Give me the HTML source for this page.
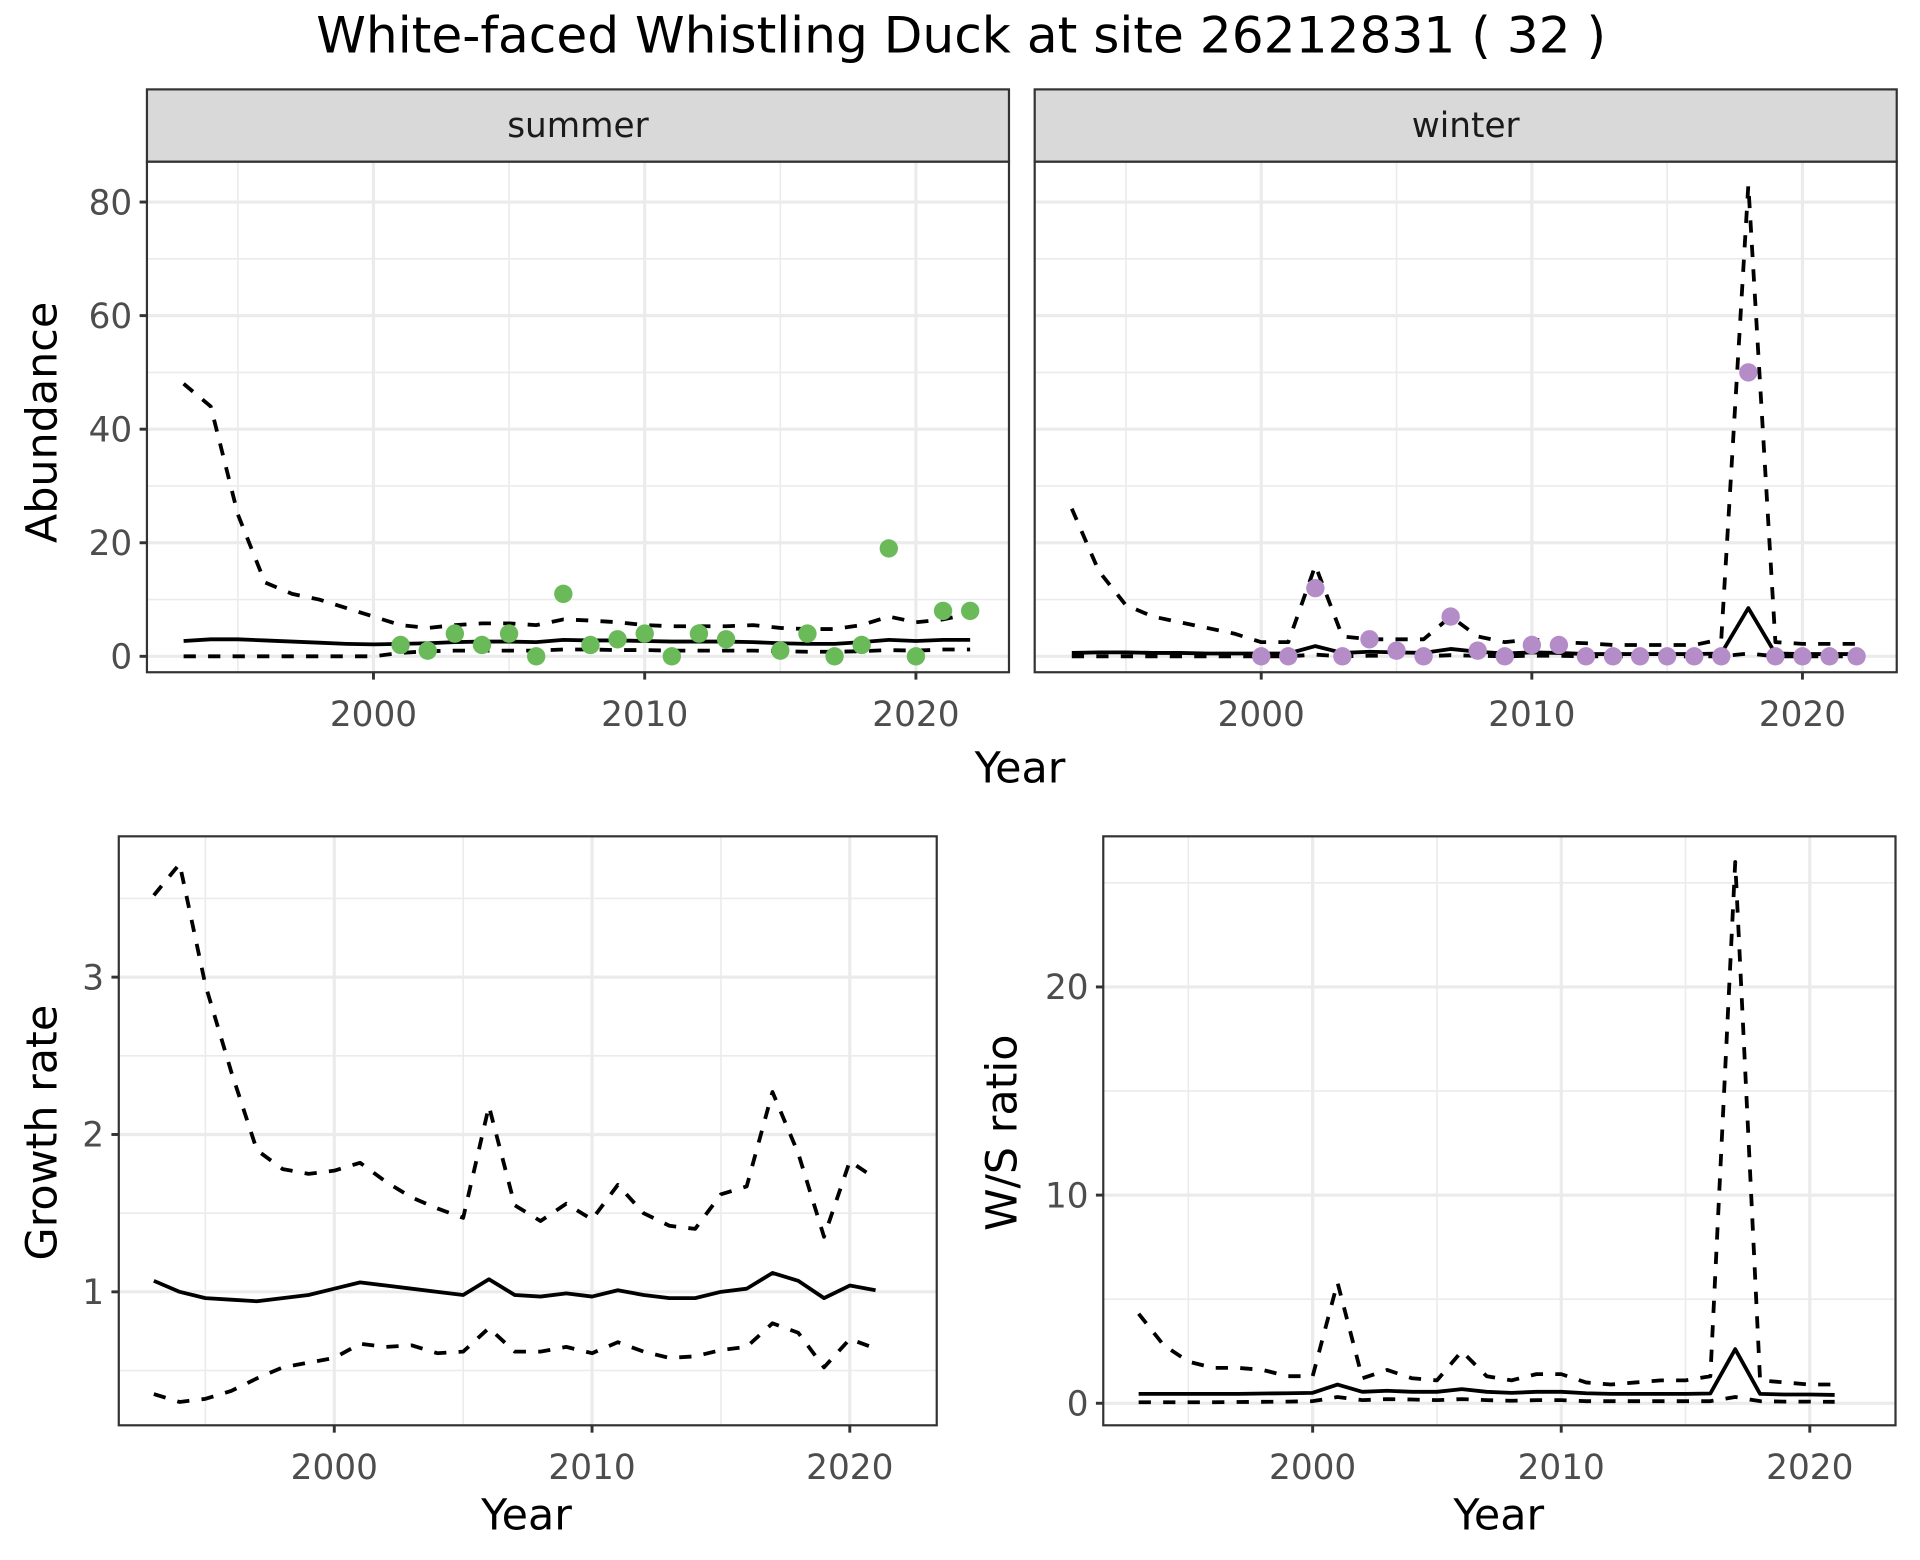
<!DOCTYPE html>
<html><head><meta charset="utf-8">
<style>
html,body{margin:0;padding:0;background:#fff;}
svg{display:block;font-family:"DejaVu Sans","Liberation Sans",sans-serif;}
</style></head>
<body>
<svg id="fig" width="1920" height="1560" viewBox="0 0 1568 1274" xmlns="http://www.w3.org/2000/svg">
<rect x="0" y="0" width="1568" height="1274" fill="#fff"/>
<text x="785" y="43" font-size="41" text-anchor="middle" fill="#000">White-faced Whistling Duck at site 26212831 ( 32 )</text>
</svg>
<script>
// ---- data ----
const yearsAb = [1993,1994,1995,1996,1997,1998,1999,2000,2001,2002,2003,2004,2005,2006,2007,2008,2009,2010,2011,2012,2013,2014,2015,2016,2017,2018,2019,2020,2021,2022];
const summerMean = [2.7,3,3,2.8,2.6,2.4,2.2,2.1,2.2,2.3,2.5,2.6,2.6,2.5,2.9,2.8,2.8,2.7,2.6,2.6,2.6,2.5,2.3,2.2,2.2,2.5,2.9,2.7,2.9,2.9];
const summerUpper = [48,44,25,13,11,10,8.5,7,5.5,5,5.5,5.8,5.8,5.5,6.5,6.3,6,5.5,5.3,5.3,5.3,5.5,5,4.8,4.8,5.5,7,6,6.5,7.5];
const summerLower = [0,0,0,0,0,0,0,0,0.6,0.9,1,1,1,1,1.2,1.2,1.1,1.1,1,1,1,1,0.9,0.8,0.8,0.9,1.1,1,1.2,1.2];
const summerObsYears = [2001,2002,2003,2004,2005,2006,2007,2008,2009,2010,2011,2012,2013,2015,2016,2017,2018,2019,2020,2021,2022];
const summerObs = [2,1,4,2,4,0,11,2,3,4,0,4,3,1,4,0,2,19,0,8,8];
const winterMean = [0.6,0.7,0.7,0.6,0.6,0.5,0.5,0.5,0.5,1.8,0.6,0.8,0.7,0.6,1.3,0.8,0.5,0.7,0.6,0.4,0.4,0.4,0.4,0.4,0.5,8.5,0.5,0.4,0.4,0.4];
const winterUpper = [26,15,9,7,6,5,4,2.5,2.5,16,3.5,3,3,3,7,3.5,2.5,3,2.5,2.3,2,2,2,2,3,83,2.5,2.2,2.2,2.2];
const winterLower = [0,0,0,0,0,0,0,0,0,0.3,0,0.1,0.1,0,0.2,0.1,0,0.1,0.1,0,0,0,0,0,0,0.5,0,0,0,0];
const winterObsYears = [2000,2001,2002,2003,2004,2005,2006,2007,2008,2009,2010,2011,2012,2013,2014,2015,2016,2017,2018,2019,2020,2021,2022];
const winterObs = [0,0,12,0,3,1,0,7,1,0,2,2,0,0,0,0,0,0,50,0,0,0,0];
const yearsGr = [1993,1994,1995,1996,1997,1998,1999,2000,2001,2002,2003,2004,2005,2006,2007,2008,2009,2010,2011,2012,2013,2014,2015,2016,2017,2018,2019,2020,2021];
const growthMean = [1.07,1.0,0.96,0.95,0.94,0.96,0.98,1.02,1.06,1.04,1.02,1.0,0.98,1.08,0.98,0.97,0.99,0.97,1.01,0.98,0.96,0.96,1.0,1.02,1.12,1.07,0.96,1.04,1.01];
const growthUpper = [3.52,3.72,2.95,2.4,1.9,1.78,1.75,1.77,1.82,1.7,1.6,1.53,1.47,2.18,1.55,1.45,1.56,1.46,1.68,1.5,1.42,1.4,1.62,1.67,2.27,1.88,1.35,1.83,1.72];
const growthLower = [0.35,0.3,0.32,0.37,0.45,0.52,0.55,0.58,0.67,0.65,0.66,0.61,0.62,0.77,0.62,0.62,0.65,0.61,0.68,0.62,0.58,0.59,0.63,0.65,0.8,0.74,0.52,0.7,0.64];
const ratioMean = [0.45,0.45,0.45,0.45,0.45,0.47,0.48,0.5,0.9,0.55,0.6,0.55,0.55,0.68,0.55,0.5,0.55,0.55,0.48,0.45,0.45,0.45,0.45,0.47,2.6,0.45,0.42,0.42,0.4];
const ratioUpper = [4.3,2.8,2.0,1.7,1.7,1.6,1.3,1.3,5.8,1.2,1.6,1.2,1.1,2.5,1.3,1.1,1.4,1.4,1.0,0.9,1.0,1.1,1.1,1.3,26,1.1,1.0,0.9,0.9];
const ratioLower = [0.05,0.05,0.05,0.05,0.06,0.07,0.08,0.1,0.3,0.15,0.2,0.18,0.15,0.2,0.15,0.12,0.15,0.15,0.1,0.1,0.1,0.1,0.1,0.1,0.3,0.1,0.08,0.08,0.07];
const xTicks = [2000,2010,2020];
const xMinor = [1995,2005,2015];
const abTicks = [0,20,40,60,80];
const abMinor = [10,30,50,70];
const grTicks = [1,2,3];
const grMinor = [0.5,1.5,2.5,3.5];
const raTicks = [0,10,20];
const raMinor = [5,15,25];

const NS='http://www.w3.org/2000/svg';
const svg=document.getElementById('fig');
function mk(tag,attrs,parent){const e=document.createElementNS(NS,tag);for(const k in attrs)e.setAttribute(k,attrs[k]);(parent||svg).appendChild(e);return e;}
function lin(d0,d1,r0,r1){return v=>r0+(v-d0)*(r1-r0)/(d1-d0);}

function panel(p){
  const g=mk('g',{});
  
  
  const x=lin(p.xd[0],p.xd[1],p.xr[0],p.xr[1]);
  const y=lin(p.yd[0],p.yd[1],p.yr[0],p.yr[1]);
  mk('rect',{x:p.L,y:p.T,width:p.R-p.L,height:p.B-p.T,fill:'#fff'},g);
  p.yMinor.forEach(v=>{const l=mk('line',{x1:p.L,x2:p.R,y1:y(v),y2:y(v),stroke:'#ebebeb','stroke-width':1.3},g);});
  xMinor.forEach(v=>{const l=mk('line',{x1:x(v),x2:x(v),y1:p.T,y2:p.B,stroke:'#ebebeb','stroke-width':1.3},g);});
  p.yTicks.forEach(v=>{const l=mk('line',{x1:p.L,x2:p.R,y1:y(v),y2:y(v),stroke:'#ebebeb','stroke-width':2.6},g);});
  xTicks.forEach(v=>{const l=mk('line',{x1:x(v),x2:x(v),y1:p.T,y2:p.B,stroke:'#ebebeb','stroke-width':2.6},g);});
  function path(vals,dash,nm){
    const d=vals.map((v,i)=>(i?'L':'M')+x(p.years[i]).toFixed(2)+','+y(v).toFixed(2)).join('');
    const e=mk('path',{d:d,fill:'none',stroke:'#000','stroke-width':3.1,'stroke-linejoin':'round'},g);
    if(dash)e.setAttribute('stroke-dasharray','10,10');
    
    
  }
  path(p.upper,true,'upper-ci-line');
  path(p.lower,true,'lower-ci-line');
  path(p.mean,false,'mean-line');
  if(p.obs){p.obs.forEach((v,i)=>{const c=mk('circle',{cx:x(p.obsYears[i]),cy:y(v),r:7.5,fill:p.color},g);});}
  mk('rect',{x:p.L,y:p.T,width:p.R-p.L,height:p.B-p.T,fill:'none',stroke:'#333','stroke-width':1.8},g);
  if(p.yLabels){p.yTicks.forEach(v=>{
    mk('line',{x1:p.L-6,x2:p.L,y1:y(v),y2:y(v),stroke:'#333','stroke-width':2.4},g);
    const t=mk('text',{x:p.L-12,y:y(v)+10,'font-size':28,'text-anchor':'end',fill:'#4d4d4d'},g);t.textContent=v;
    
  });}
  xTicks.forEach(v=>{
    mk('line',{x1:x(v),x2:x(v),y1:p.B,y2:p.B+6,stroke:'#333','stroke-width':2.4},g);
    const t=mk('text',{x:x(v),y:p.B+44,'font-size':28,'text-anchor':'middle',fill:'#4d4d4d'},g);t.textContent=v;
    
  });
  if(p.strip){
    const s=mk('rect',{x:p.L,y:p.T-59,width:p.R-p.L,height:59,fill:'#d9d9d9',stroke:'#333','stroke-width':1.8},g);
    
    const t=mk('text',{x:(p.L+p.R)/2,y:p.T-20,'font-size':28,'text-anchor':'middle',fill:'#1a1a1a'},g);t.textContent=p.strip;
    
  }
}
function label(txt,xx,yy,rot,nm){
  const t=mk('text',{x:xx,y:yy,'font-size':35,'text-anchor':'middle',fill:'#000'});
  if(rot)t.setAttribute('transform','rotate(-90 '+xx+' '+yy+')');
  t.textContent=txt;
  
}
panel({name:'summer-panel',L:120,R:824,T:132,B:549,xd:[2000,2020],xr:[305,748],yd:[0,80],yr:[536,165],years:yearsAb,mean:summerMean,upper:summerUpper,lower:summerLower,obs:summerObs,obsYears:summerObsYears,color:'#6aba5a',yTicks:abTicks,yMinor:abMinor,yLabels:true,strip:'summer'});
panel({name:'winter-panel',L:845,R:1549,T:132,B:549,xd:[2000,2020],xr:[1030,1472],yd:[0,80],yr:[536,165],years:yearsAb,mean:winterMean,upper:winterUpper,lower:winterLower,obs:winterObs,obsYears:winterObsYears,color:'#b48cc8',yTicks:abTicks,yMinor:abMinor,yLabels:false,strip:'winter'});
panel({name:'growth-rate-panel',L:97,R:765,T:683,B:1164,xd:[2000,2020],xr:[273,694],yd:[1,3],yr:[1055,798],years:yearsGr,mean:growthMean,upper:growthUpper,lower:growthLower,yTicks:grTicks,yMinor:grMinor,yLabels:true});
panel({name:'ws-ratio-panel',L:901,R:1548,T:683,B:1164,xd:[2000,2020],xr:[1072,1478],yd:[0,20],yr:[1146,806],years:yearsGr,mean:ratioMean,upper:ratioUpper,lower:ratioLower,yTicks:raTicks,yMinor:raMinor,yLabels:true});
label('Year',833,639,false,'x-axis-title-top');
label('Abundance',46,345,true,'y-axis-title-abundance');
label('Year',430,1249,false,'x-axis-title-growth');
label('Growth rate',46,925,true,'y-axis-title-growth');
label('Year',1224,1249,false,'x-axis-title-ratio');
label('W/S ratio',830,925,true,'y-axis-title-ratio');
</script>
</body></html>
